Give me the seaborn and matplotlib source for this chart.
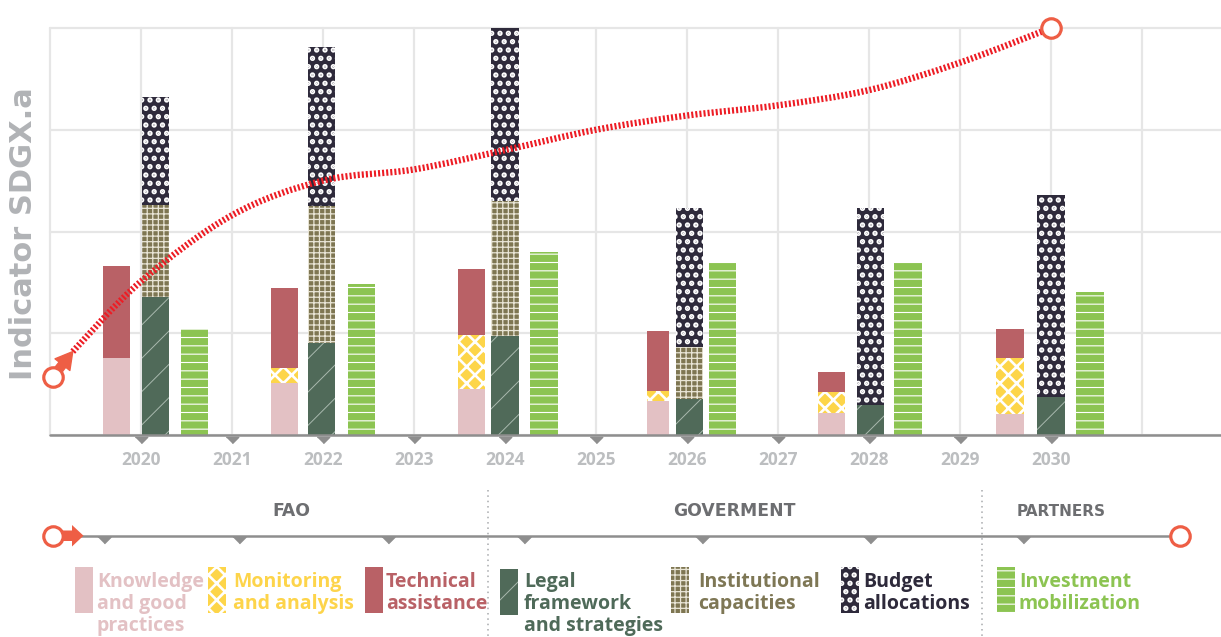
import numpy as np
import matplotlib
matplotlib.use("Agg")
import matplotlib.pyplot as plt
import seaborn as sns
from matplotlib.path import Path
from matplotlib.patches import PathPatch, Rectangle, Polygon
from matplotlib import font_manager as fm

# ---------------- data ----------------
years = [2020, 2022, 2024, 2026, 2028, 2030]
tick_years = [2020, 2021, 2022, 2023, 2024, 2025, 2026, 2027, 2028, 2029, 2030]

# FAO stack
knowledge = [0.76, 0.51, 0.45, 0.33, 0.22, 0.21]
monitoring = [0.00, 0.15, 0.53, 0.10, 0.20, 0.55]
technical = [0.90, 0.78, 0.65, 0.59, 0.20, 0.28]
# Government stack
legal = [1.36, 0.90, 0.97, 0.35, 0.29, 0.37]
institutional = [0.90, 1.35, 1.33, 0.51, 0.00, 0.00]
budget = [1.06, 1.56, 1.70, 1.37, 1.94, 1.99]
# Partners
investment = [1.04, 1.48, 1.80, 1.69, 1.69, 1.41]

# Indicator SDGX.a trajectory
indicator_start = (2019.03, 0.57)
indicator_x = [2019.25, 2020, 2021, 2022, 2023, 2024, 2025, 2026, 2027, 2028, 2029, 2030]
indicator_y = [0.82, 1.51, 2.16, 2.50, 2.61, 2.80, 3.00, 3.14, 3.24, 3.39, 3.66, 4.00]

section_titles = ["FAO", "GOVERMENT", "PARTNERS"]
legend_labels = [
    ["Knowledge", "and good", "practices"],
    ["Monitoring", "and analysis"],
    ["Technical", "assistance"],
    ["Legal", "framework", "and strategies"],
    ["Institutional", "capacities"],
    ["Budget", "allocations"],
    ["Investment", "mobilization"],
]

# ---------------- layout / style ----------------
W, H = 1221, 637
PX_YEAR = 91.0
GROUP_OFFSETS = np.array([
    [-0.27, 0.16, 0.59],
    [-0.42, -0.02, 0.42],
    [-0.37, 0.00, 0.43],
    [-0.32, 0.03, 0.39],
    [-0.41, 0.02, 0.43],
    [-0.45, 0.00, 0.43],
])
LEFT_WIDTH = np.array([0.30, 0.30, 0.30, 0.24, 0.30, 0.30])
BAR_W = 0.30

C_KNOW = "#E3C1C4"
C_MON = "#FDD549"
C_TECH = "#B96166"
C_LEGAL = "#506A59"
C_INST = "#7E7652"
C_BUDGET = "#2E2A3B"
C_INV = "#8CC452"
C_GRID = "#E6E6E6"
C_AXIS = "#8E8E8E"
C_RED = "#ED1C24"
C_ORANGE = "#EE5E45"
C_TITLE = "#6D6E71"

STYLE = {
    "know": dict(color=C_KNOW, edgecolor=C_KNOW, hatch=None, hlw=0.5),
    "mon": dict(color=C_MON, edgecolor="white", hatch="xx", hlw=1.9),
    "tech": dict(color=C_TECH, edgecolor=C_TECH, hatch=None, hlw=0.5),
    "legal": dict(color=C_LEGAL, edgecolor="#A9B9AE", hatch="/", hlw=0.7),
    "inst": dict(color=C_INST, edgecolor="#E9E5D6", hatch="+++", hlw=0.9),
    "budget": dict(color=C_BUDGET, edgecolor="white", hatch="..", hlw=2.6),
    "inv": dict(color=C_INV, edgecolor="white", hatch="--", hlw=0.8),
}


def pick(fams):
    for f in fams:
        try:
            fm.findfont(fm.FontProperties(family=f), fallback_to_default=False)
            return f
        except Exception:
            pass
    return "DejaVu Sans"


sns.set_theme(style="white")
F_MAIN = pick(["Open Sans", "Lato", "DejaVu Sans"])
plt.rcParams["font.family"] = [F_MAIN, "DejaVu Sans"]


def set_hatch_lw(patches, lw):
    for p in patches:
        try:
            p.set_hatch_linewidth(lw)
        except AttributeError:
            pass


def styled_bar(axis, x, h, w, bottom, key, zorder=2):
    st = STYLE[key]
    plt.rcParams["hatch.linewidth"] = st["hlw"]
    bars = axis.bar(x, h, width=w, bottom=bottom, color=st["color"],
                    edgecolor=st["edgecolor"], linewidth=0, hatch=st["hatch"],
                    zorder=zorder)
    set_hatch_lw(bars.patches, st["hlw"])
    return bars


fig = plt.figure(figsize=(W / 100, H / 100), dpi=100)
ax = fig.add_axes([50 / W, 1 - 435 / H, (W - 50) / W, (435 - 28) / H])
ax.set_facecolor("none")
ax.set_xlim(2019, 2019 + (W - 50) / PX_YEAR)
ax.set_ylim(0, 4)
for s in ax.spines.values():
    s.set_visible(False)
ax.set_xticks([])
ax.set_yticks([])

for gy in range(0, 5):
    ax.axhline(gy, color=C_GRID, lw=1.6, zorder=0, clip_on=False)
for gx in range(2019, 2032):
    ax.axvline(gx, color=C_GRID, lw=1.6, zorder=0, clip_on=False)

yrs = np.array(years, dtype=float)
x_left = yrs + GROUP_OFFSETS[:, 0]
x_mid = yrs + GROUP_OFFSETS[:, 1]
x_right = yrs + GROUP_OFFSETS[:, 2]

bottom = np.zeros(len(years))
for vals, key in [(knowledge, "know"), (monitoring, "mon"), (technical, "tech")]:
    styled_bar(ax, x_left, vals, LEFT_WIDTH, bottom, key)
    bottom = bottom + np.array(vals)

bottom = np.zeros(len(years))
for vals, key in [(legal, "legal"), (institutional, "inst"), (budget, "budget")]:
    styled_bar(ax, x_mid, vals, BAR_W, bottom, key)
    bottom = bottom + np.array(vals)

styled_bar(ax, x_right, investment, BAR_W, np.zeros(len(years)), "inv")

# axis line, tick triangles and labels
ax.axhline(0, color=C_AXIS, lw=1.8, zorder=4, clip_on=False)
tri = [(-1, 0.5), (1, 0.5), (0, -0.5)]
ax.plot(tick_years, [-0.045] * len(tick_years), marker=tri, ls="none", ms=9,
        color=C_AXIS, clip_on=False, zorder=4)
for ty in tick_years:
    ax.text(ty, -0.245, str(ty), ha="center", va="center", fontsize=12.5,
            fontweight="bold", color="#BCBEC0", clip_on=False)

# indicator curve (smooth cubic Bezier through the points)
P = np.column_stack([np.array(indicator_x), np.array(indicator_y)])
verts = [P[0]]
codes = [Path.MOVETO]
n = len(P)
for i in range(n - 1):
    p0 = P[max(i - 1, 0)]
    p1 = P[i]
    p2 = P[i + 1]
    p3 = P[min(i + 2, n - 1)]
    c1 = p1 + (p2 - p0) / 6.0
    c2 = p2 - (p3 - p1) / 6.0
    verts += [c1, c2, p2]
    codes += [Path.CURVE4] * 3
curve = PathPatch(Path(verts, codes), fill=False, edgecolor=C_RED, lw=4.6,
                  linestyle=(0, (0.32, 0.32)), capstyle="butt", zorder=6,
                  clip_on=False)
ax.add_patch(curve)

ax.annotate("", xy=(indicator_x[0], indicator_y[0]), xytext=indicator_start,
            arrowprops=dict(arrowstyle="simple,head_length=0.75,head_width=0.85,tail_width=0.38",
                            color=C_ORANGE, shrinkA=0, shrinkB=0, mutation_scale=16),
            zorder=7, annotation_clip=False)
ax.plot([indicator_start[0]], [indicator_start[1]], "o", ms=14, mfc="white",
        mec=C_ORANGE, mew=2.3, clip_on=False, zorder=8)
ax.plot([indicator_x[-1]], [indicator_y[-1]], "o", ms=14, mfc="white",
        mec=C_ORANGE, mew=2.3, clip_on=False, zorder=8)

fig.text(24 / W, 1 - 234 / H, "Indicator SDGX.a", rotation=90, ha="center",
         va="center", fontsize=22, fontweight="bold", color="#B1B3B6",
         family=["DejaVu Sans"])

# ---------------- bottom legend band (pixel coordinates) ----------------
ov = fig.add_axes([0, 0, 1, 1])
ov.set_xlim(0, W)
ov.set_ylim(H, 0)
ov.axis("off")
ov.set_facecolor("none")

LINE_Y = 535.7
ov.plot([80, 1169], [LINE_Y, LINE_Y], color=C_AXIS, lw=1.8, zorder=2)
ov.plot([104, 239, 388, 524, 702, 870, 1023], [539.5] * 7, marker=tri,
        ls="none", ms=9.5, color=C_AXIS, zorder=2)
for sx in [488, 982]:
    ov.plot([sx, sx], [490, 637], color="#A7A9AC", lw=1.1,
            ls=(0, (1, 2.5)), zorder=1)

ov.add_patch(Polygon([(60, 530.5), (72, 530.5), (72, 525), (83.5, LINE_Y),
                      (72, 546.5), (72, 541), (60, 541)], closed=True,
                     facecolor=C_ORANGE, edgecolor="none", zorder=3))
ov.plot([53], [LINE_Y], "o", ms=14, mfc="white", mec=C_ORANGE, mew=2.3, zorder=4)
ov.plot([1180], [LINE_Y], "o", ms=14, mfc="white", mec=C_ORANGE, mew=2.3, zorder=4)

title_pos = [(291, 511, 12.4), (734, 511, 12.4), (1061, 512, 11)]
for t, (tx, tyy, fs) in zip(section_titles, title_pos):
    ov.text(tx, tyy, t, ha="center", va="center", fontsize=fs,
            fontweight="bold", color=C_TITLE, family=["DejaVu Sans"])

legend_keys = ["know", "mon", "tech", "legal", "inst", "budget", "inv"]
legend_text_colors = [C_KNOW, "#FDD44A", C_TECH, "#4F6A59", "#7E7755", C_BUDGET, C_INV]
swatch_pos = [(75, 567), (208, 567), (365, 567), (500, 569), (671, 567), (841, 567), (997, 567)]
text_x = [97, 233, 386, 524, 698, 863, 1019]
baselines = [587, 609, 631]
for key, labs, tc, (sx, sy), tx in zip(legend_keys, legend_labels,
                                       legend_text_colors, swatch_pos, text_x):
    st = STYLE[key]
    plt.rcParams["hatch.linewidth"] = st["hlw"]
    r = Rectangle((sx, sy), 18, 46, facecolor=st["color"],
                  edgecolor=st["edgecolor"], linewidth=0, hatch=st["hatch"],
                  zorder=3)
    ov.add_patch(r)
    set_hatch_lw([r], st["hlw"])
    for line, by in zip(labs, baselines):
        ov.text(tx, by, line, ha="left", va="baseline", fontsize=14,
                fontweight="bold", color=tc, family=[F_MAIN, "DejaVu Sans"])

fig.savefig("out.png", dpi=100)
